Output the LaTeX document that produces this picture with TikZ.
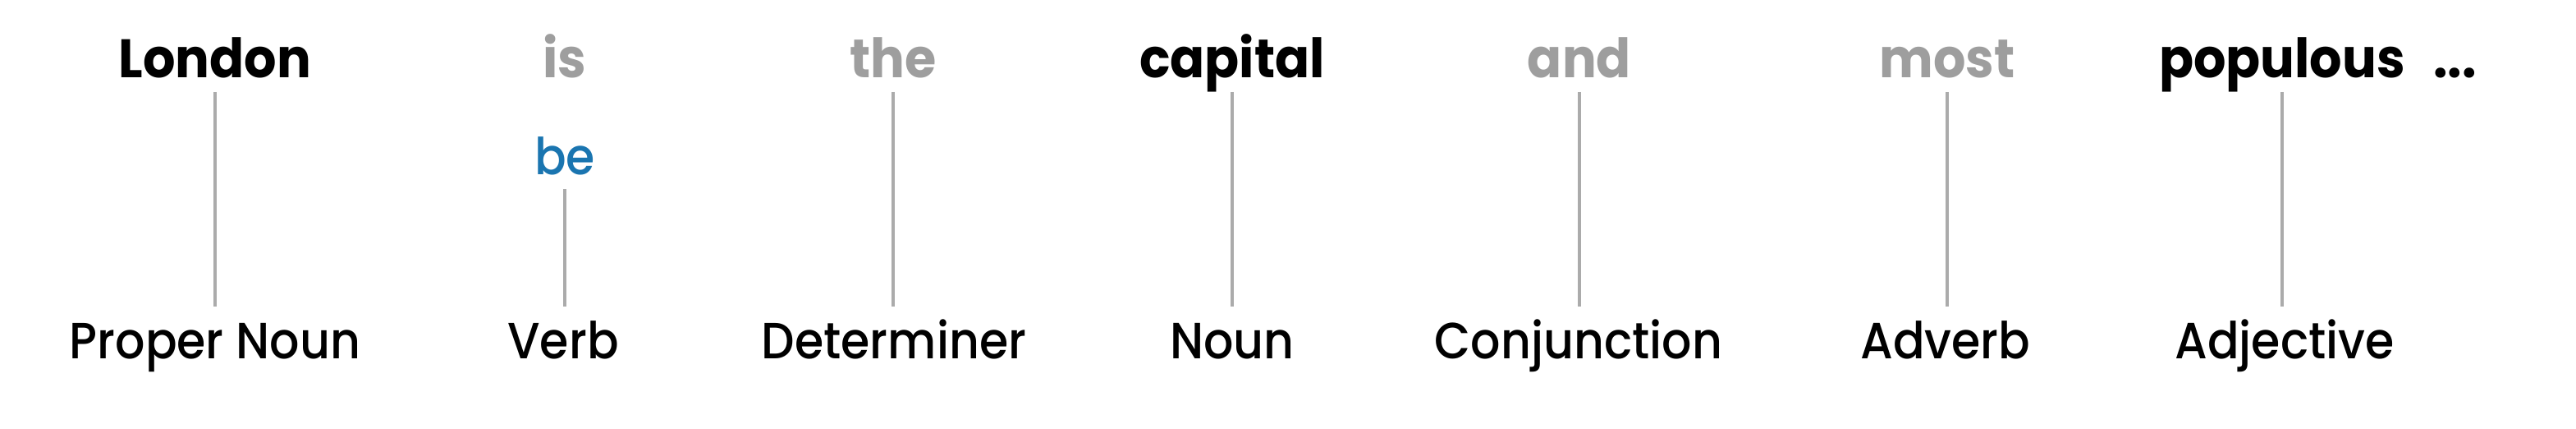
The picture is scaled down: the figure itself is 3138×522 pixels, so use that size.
\documentclass[tikz,border=0pt]{standalone}
\usepackage{fontspec}
\setmainfont{Poppins}
\newfontfamily\labfont[FakeStretch=0.92,UprightFont={* Medium}]{Poppins}
\newfontfamily\wordfont[FakeStretch=0.94,UprightFont={* Bold}]{Poppins}
\definecolor{wgray}{HTML}{9E9E9E}
\definecolor{lgray}{HTML}{ABABAB}
\definecolor{beblue}{HTML}{1A75B0}
\begin{document}
\begin{tikzpicture}[x=0.5pt,y=-0.5pt,
  word/.style={anchor=base,inner sep=0pt,font=\fontsize{33}{33}\wordfont},
  keyword/.style={word,text=black},
  minor/.style={word,text=wgray},
  lemma/.style={anchor=base,inner sep=0pt,text=beblue,font=\fontsize{31}{31}\labfont},
  postag/.style={anchor=base,inner sep=0pt,text=black,font=\fontsize{31}{31}\labfont},
  link/.style={draw=lgray,line width=1.6pt}]
\useasboundingbox (0,0) rectangle (3138,522);
\coordinate (top) at (0,112);
\coordinate (ltop) at (0,230);
\coordinate (bot) at (0,373);
\node[keyword] (w1) at (262,95) {London};
\node[minor]   (w2) at (688,95) {is};
\node[minor]   (w3) at (1088,95) {the};
\node[keyword] (w4) at (1501,95) {capital};
\node[minor]   (w5) at (1924,95) {and};
\node[minor]   (w6) at (2372,95) {most};
\node[keyword] (w7) at (2780,95) {populous};
\node[keyword,anchor=base west] (w8) at (2964,95) {...};
\node[lemma] (l2) at (688,213) {be};
\node[postag] (p1) at (262,437) {Proper Noun};
\node[postag] (p2) at (686,437) {Verb};
\node[postag] (p3) at (1089,437) {Determiner};
\node[postag] (p4) at (1501,437) {Noun};
\node[postag] (p5) at (1923,437) {Conjunction};
\node[postag] (p6) at (2370,437) {Adverb};
\node[postag] (p7) at (2783,437) {Adjective};
\draw[link] (w1 |- top) -- (w1 |- bot);
\draw[link] (l2 |- ltop) -- (l2 |- bot);
\draw[link] (w3 |- top) -- (w3 |- bot);
\draw[link] (w4 |- top) -- (w4 |- bot);
\draw[link] (w5 |- top) -- (w5 |- bot);
\draw[link] (w6 |- top) -- (w6 |- bot);
\draw[link] (w7 |- top) -- (w7 |- bot);
\end{tikzpicture}
\end{document}
